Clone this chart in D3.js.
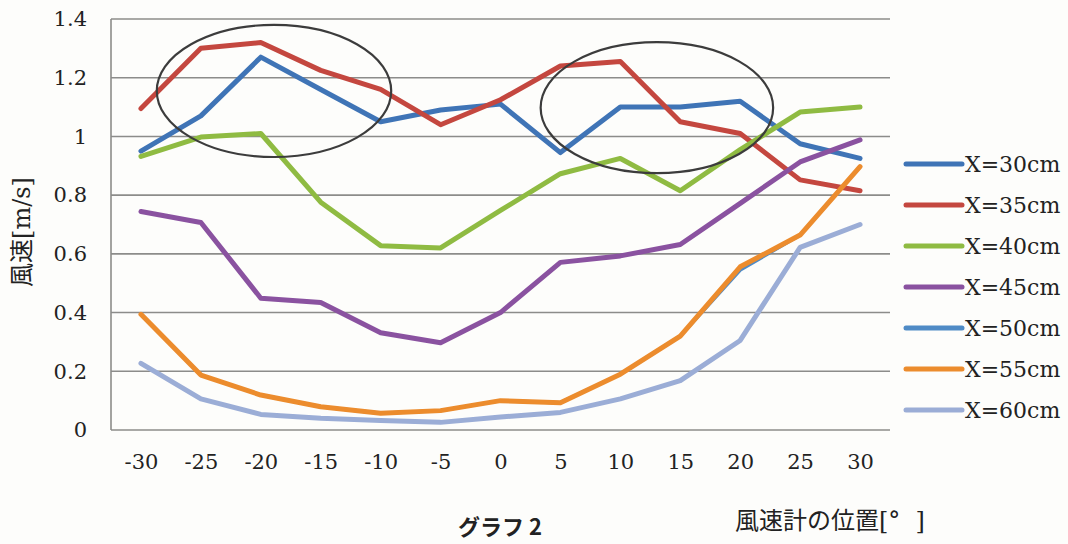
<!DOCTYPE html>
<html>
<head>
<meta charset="utf-8">
<script src="https://cdn.jsdelivr.net/npm/d3@7/dist/d3.min.js"></script>
<style>
  html, body { margin: 0; padding: 0; background: #fdfdfb; }
  svg { display: block; }
</style>
</head>
<body>
<svg id="chart" width="1068" height="544"></svg>
<script>
// Anemometer angle positions [deg]
const positions = [-30, -25, -20, -15, -10, -5, 0, 5, 10, 15, 20, 25, 30];

// Wind speed [m/s] at each distance X
const seriesNames = ["X=30cm", "X=35cm", "X=40cm", "X=45cm", "X=50cm", "X=55cm", "X=60cm"];
const x30 = [0.95, 1.07, 1.27, 1.16, 1.05, 1.09, 1.11, 0.945, 1.10, 1.10, 1.12, 0.975, 0.925];
const x35 = [1.095, 1.30, 1.32, 1.225, 1.16, 1.04, 1.125, 1.24, 1.255, 1.05, 1.01, 0.852, 0.815];
const x40 = [0.932, 0.998, 1.01, 0.776, 0.628, 0.62, 0.748, 0.873, 0.925, 0.815, 0.955, 1.083, 1.10];
const x45 = [0.744, 0.707, 0.449, 0.434, 0.331, 0.297, 0.40, 0.571, 0.593, 0.632, 0.772, 0.913, 0.988];
const x50 = [0.394, 0.187, 0.119, 0.079, 0.057, 0.066, 0.10, 0.093, 0.19, 0.32, 0.545, 0.664, 0.897];
const x55 = [0.394, 0.187, 0.119, 0.079, 0.057, 0.066, 0.10, 0.093, 0.19, 0.32, 0.556, 0.664, 0.897];
const x60 = [0.227, 0.106, 0.053, 0.040, 0.032, 0.026, 0.044, 0.060, 0.106, 0.168, 0.305, 0.622, 0.700];
const seriesValues = [x30, x35, x40, x45, x50, x55, x60];
const seriesColors = ["#3f74b6", "#c4473f", "#8fbb42", "#8a52a0", "#4f8bc6", "#ec8c2d", "#9badd6"];
const seriesWidths = [5, 5, 5, 5, 3.5, 5, 5];

// Y axis ticks
const yTicks = [0, 0.2, 0.4, 0.6, 0.8, 1, 1.2, 1.4];

// Highlight ellipses: centre (deg, m/s) and radii (deg, m/s)
const ellipseCx = [-18.9, 13.05];
const ellipseCy = [1.155, 1.098];
const ellipseRx = [9.78, 9.7];
const ellipseRy = [0.225, 0.223];

const svg = d3.select("#chart");
const plotLeft = 111, plotRight = 890, plotTop = 19, plotBottom = 430;

const x = d3.scalePoint().domain(positions).range([plotLeft, plotRight]).padding(0.5);
const xLin = d3.scaleLinear().domain([-30, 30]).range([x(-30), x(30)]);
const y = d3.scaleLinear().domain([0, 1.4]).range([plotBottom, plotTop]);

const serif = "'DejaVu Serif', 'Liberation Serif', serif";
const cjk = "'Noto Sans CJK JP', sans-serif";

// Horizontal gridlines
svg.append("g")
  .selectAll("line")
  .data(yTicks)
  .join("line")
  .attr("x1", plotLeft).attr("x2", plotRight)
  .attr("y1", d => y(d)).attr("y2", d => y(d))
  .attr("stroke", "#8c8c8a")
  .attr("stroke-width", 1.6);

// Left axis line
svg.append("line")
  .attr("x1", plotLeft).attr("x2", plotLeft)
  .attr("y1", y(1.4)).attr("y2", y(0))
  .attr("stroke", "#8c8c8a")
  .attr("stroke-width", 1.6);

// Y tick labels
const yAxis = d3.axisLeft(y).tickValues(yTicks).tickSize(0).tickPadding(24)
  .tickFormat(d => d3.format("~g")(d));
const gy = svg.append("g").attr("transform", `translate(${plotLeft},0)`).call(yAxis);
gy.select(".domain").remove();
gy.selectAll("text")
  .attr("font-family", serif).attr("font-size", 21).attr("fill", "#222");

// X tick labels
const xAxis = d3.axisBottom(x).tickSize(0).tickPadding(24).tickFormat(d => String(d));
const gx = svg.append("g").attr("transform", `translate(0,${plotBottom})`).call(xAxis);
gx.select(".domain").remove();
gx.selectAll("text")
  .attr("font-family", serif).attr("font-size", 21).attr("fill", "#222");

// Series lines
const line = d3.line()
  .x((d, i) => x(positions[i]))
  .y(d => y(d));

svg.append("g")
  .selectAll("path")
  .data(seriesValues)
  .join("path")
  .attr("d", d => line(d))
  .attr("fill", "none")
  .attr("stroke", (d, i) => seriesColors[i])
  .attr("stroke-width", (d, i) => seriesWidths[i])
  .attr("stroke-linejoin", "round")
  .attr("stroke-linecap", "round");

// Highlight ellipses
svg.append("g")
  .selectAll("ellipse")
  .data(ellipseCx)
  .join("ellipse")
  .attr("cx", d => xLin(d))
  .attr("cy", (d, i) => y(ellipseCy[i]))
  .attr("rx", (d, i) => xLin(ellipseRx[i]) - xLin(0))
  .attr("ry", (d, i) => y(0) - y(ellipseRy[i]))
  .attr("fill", "none")
  .attr("stroke", "#3c3c3c")
  .attr("stroke-width", 2.2);

// Legend
const legend = svg.append("g")
  .selectAll("g")
  .data(seriesNames)
  .join("g")
  .attr("transform", (d, i) => `translate(906,${164 + i * 41})`);
legend.append("line")
  .attr("x1", 0).attr("x2", 56).attr("y1", 0).attr("y2", 0)
  .attr("stroke", (d, i) => seriesColors[i])
  .attr("stroke-width", 5)
  .attr("stroke-linecap", "round");
legend.append("text")
  .attr("x", 59).attr("y", 0).attr("dy", "0.35em")
  .attr("font-family", serif).attr("font-size", 22).attr("fill", "#222")
  .text(d => d);

// Axis titles
const yTitle = svg.append("text")
  .attr("transform", "translate(22,232) rotate(-90)")
  .attr("text-anchor", "middle").attr("dy", "0.35em")
  .attr("font-size", 24).attr("fill", "#222");
yTitle.append("tspan").attr("font-family", cjk).text("風速");
yTitle.append("tspan").attr("font-family", serif).text("[m/s]");

const xTitle = svg.append("text")
  .attr("x", 735).attr("y", 521).attr("dy", "0.35em")
  .attr("font-size", 24).attr("fill", "#222");
xTitle.append("tspan").attr("font-family", cjk).text("風速計の位置");
xTitle.append("tspan").attr("font-family", serif).attr("xml:space", "preserve").text("[°  ]");

svg.append("text")
  .attr("x", 500).attr("y", 527).attr("dy", "0.35em")
  .attr("text-anchor", "middle")
  .attr("font-family", cjk).attr("font-size", 22).attr("font-weight", "bold")
  .attr("fill", "#222")
  .text("グラフ 2");
</script>
</body>
</html>
